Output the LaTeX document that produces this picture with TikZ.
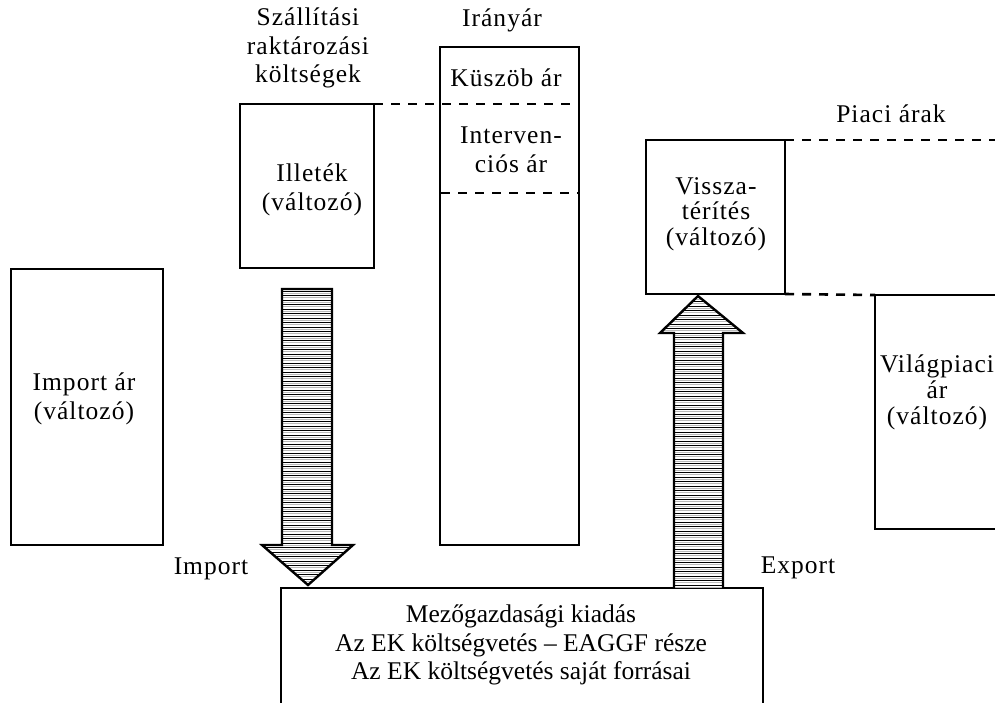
\documentclass[tikz,border=0pt]{standalone}
\usepackage{fontspec}
\setmainfont{Liberation Serif}[LetterSpace=4]
\newfontfamily\plainserif{Liberation Serif}
\begin{document}
\begin{tikzpicture}[x=1pt,y=-1pt,
  box/.style={draw, line width=2.6pt, inner sep=0pt, outer sep=0pt},
  lbl/.style={font=\fontsize{25.5}{28.5}\selectfont, align=center, inner sep=0pt},
  dline/.style={line width=2.6pt, dash pattern=on 9pt off 8pt},
  arr/.style={draw, line width=2.4pt, line join=miter}]
\useasboundingbox (0,0) rectangle (995,702);
% boxes
\node[box, minimum width=152pt, minimum height=276pt] (imp) at (87,407) {};
\node[box, minimum width=134pt, minimum height=164pt] (ill) at (307,186) {};
\node[box, minimum width=139pt, minimum height=498pt] (iran) at (509.5,296) {};
\node[box, minimum width=139pt, minimum height=154pt] (vissza) at (715.5,217) {};
\node[box, minimum width=135pt, minimum height=234pt] (world) at (942.5,412) {};
\node[box, minimum width=482pt, minimum height=132pt] (bottom) at (522,654) {};
% dashed lines
\coordinate (d1) at (576,104);
\coordinate (d2a) at (441,193);
\coordinate (d2b) at (578,193);
\coordinate (d3) at (995,140);
\draw[dline] (ill.north east) -- (d1);
\draw[dline] (d2a) -- (d2b);
\draw[dline] (vissza.north east) -- (d3);
\draw[dline] (vissza.south east) -- (world.north west);
% texts
\node[lbl] (szall) at (308,48) {Szállítási\\raktározási\\költségek};
\node[lbl] (iranyar) at (502,20) {Irányár};
\node[lbl] (kuszob) at (506,78) {Küszöb ár};
\node[lbl] (interv) at (511,150) {Interven-\\ciós ár};
\node[lbl] (illtxt) at (312,190) {Illeték\\(változó)};
\node[lbl] (imptxt) at (84,399) {Import ár\\(változó)};
\node[lbl] (piaci) at (891,114) {Piaci árak};
\node[lbl, font=\fontsize{25.5}{25.5}\selectfont] (visstxt) at (716,214) {Vissza-\\térítés\\(változó)};
\node[lbl, font=\fontsize{25.5}{26}\selectfont] (worldtxt) at (937,392) {Világpiaci\\ár\\(változó)};
\node[lbl] (importlbl) at (211,569) {Import};
\node[lbl] (exportlbl) at (798,568) {Export};
\node[lbl, font=\plainserif\fontsize{25.5}{28.5}\selectfont] (bottxt) at (521,645) {Mezőgazdasági kiadás\\Az EK költségvetés – EAGGF része\\Az EK költségvetés saját forrásai};
% import arrow
\begin{scope}
\clip (282,289) -- (332,289) -- (332,545) -- (353,545) -- (308,585) -- (262,545) -- (282,545) -- cycle;
\foreach \y in {291,295.5,...,587} {
  \draw[line width=0.8pt] (250,\y) -- (360,\y);
  \draw[gray!55, line width=0.6pt] (250,\y+2.2) -- (360,\y+2.2);
}
\end{scope}
\draw[arr] (282,289) -- (332,289) -- (332,545) -- (353,545) -- (308,585) -- (262,545) -- (282,545) -- cycle;
% export arrow
\begin{scope}
\clip (674,588) -- (723,588) -- (723,333) -- (743,333) -- (698,296) -- (660,333) -- (674,333) -- cycle;
\foreach \y in {297,301.5,...,589} {
  \draw[line width=0.8pt] (650,\y) -- (750,\y);
  \draw[gray!55, line width=0.6pt] (650,\y+2.2) -- (750,\y+2.2);
}
\end{scope}
\draw[arr] (674,588) -- (674,333) -- (660,333) -- (698,296) -- (743,333) -- (723,333) -- (723,588);
\end{tikzpicture}
\end{document}
